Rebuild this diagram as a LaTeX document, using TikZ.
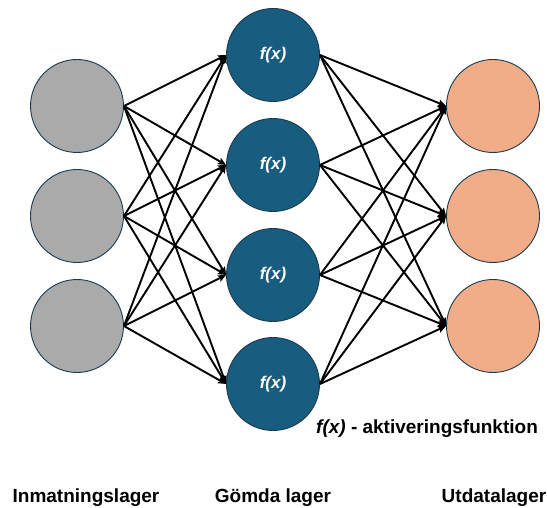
\documentclass[tikz,border=0pt]{standalone}
\usepackage{fontspec}
\setmainfont{Liberation Sans}
\usetikzlibrary{arrows.meta}
\definecolor{nngrey}{RGB}{170,170,170}
\definecolor{nnblue}{RGB}{24,92,128}
\definecolor{nnpeach}{RGB}{240,173,136}
\definecolor{nnedge}{RGB}{28,58,78}
\tikzset{
  unit/.style={circle, draw=nnedge, line width=0.9pt, minimum size=93pt, inner sep=0pt},
  inunit/.style={unit, fill=nngrey},
  hidunit/.style={unit, fill=nnblue, text=white, font=\fontsize{17}{20}\selectfont\bfseries\itshape},
  outunit/.style={unit, fill=nnpeach},
  wire/.style={-{Stealth[length=8pt, width=7pt, inset=1.5pt]}, line width=1.9pt, draw=black},
  lab/.style={font=\fontsize{19}{23}\selectfont\bfseries}
}
\begin{document}
\begin{tikzpicture}[x=1pt, y=-1pt]
  \useasboundingbox (0,0) rectangle (547,508);
  \node[inunit] (in1) at (77,106) {};
  \node[inunit] (in2) at (77,216) {};
  \node[inunit] (in3) at (77,326) {};
  \node[hidunit] (hid1) at (273,55)  {f(x)};
  \node[hidunit] (hid2) at (273,165) {f(x)};
  \node[hidunit] (hid3) at (273,275) {f(x)};
  \node[hidunit] (hid4) at (273,384) {f(x)};
  \node[outunit] (out1) at (493,106) {};
  \node[outunit] (out2) at (493,216) {};
  \node[outunit] (out3) at (493,326) {};
  % connections
  \foreach \i in {1,2,3}
    \foreach \j in {1,2,3,4}
      \draw[wire] (in\i.east) -- (hid\j.west);
  \foreach \j in {1,2,3,4}
    \foreach \k in {1,2,3}
      \draw[wire] (hid\j.east) -- (out\k.west);
  \node[lab, anchor=base west, inner sep=0pt] (note) at (316,433) {\itshape f(x)\upshape\ - aktiveringsfunktion};
  \node[lab, anchor=base] (lin)  at (86,502)  {Inmatningslager};
  \node[lab, anchor=base] (lhid) at (273,502) {Gömda lager};
  \node[lab, anchor=base] (lout) at (494,502) {Utdatalager};
\end{tikzpicture}
\end{document}
